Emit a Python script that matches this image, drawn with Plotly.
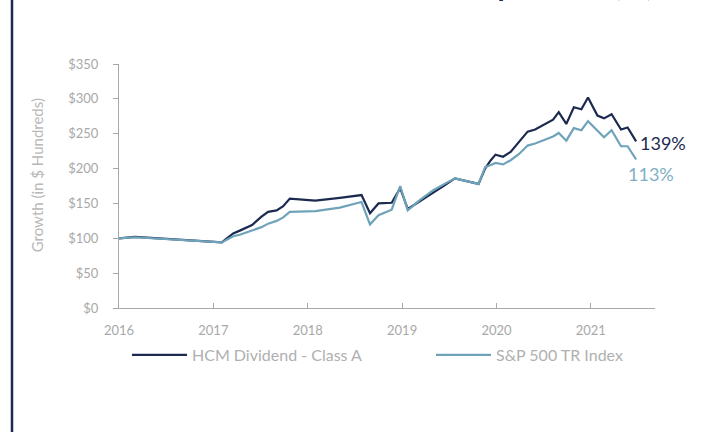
import plotly.graph_objects as go

# Decimal-year positions of the data points
years = [2016.00, 2016.17, 2017.09, 2017.21, 2017.28, 2017.41, 2017.51, 2017.58, 2017.67, 2017.74,
         2017.81, 2018.08, 2018.34, 2018.57, 2018.66, 2018.75, 2018.89, 2018.98, 2019.06, 2019.19,
         2019.33, 2019.45, 2019.56, 2019.81, 2019.88, 2019.94, 2019.99, 2020.07, 2020.15, 2020.24,
         2020.33, 2020.41, 2020.51, 2020.60, 2020.66, 2020.74, 2020.82, 2020.90, 2020.97, 2021.07,
         2021.14, 2021.22, 2021.32, 2021.39, 2021.48]

hcm = [100, 102, 94, 107, 111, 119, 131, 138, 140, 146,
       157, 154, 158, 162, 136, 150, 151, 172, 142, 153,
       166, 176, 186, 178, 200, 212, 220, 217, 224, 238,
       253, 256, 264, 270, 281, 264, 288, 285, 302, 276,
       272, 278, 256, 259, 239]

sp500 = [100, 101.5, 94, 103, 105, 111, 116, 121, 125, 130,
         138, 139, 144, 152, 120, 133, 141, 175, 140, 155,
         169, 178, 186, 178, 202, 205, 208, 206, 212, 221,
         233, 236, 241, 246, 251, 240, 258, 255, 268, 254,
         245, 255, 232, 232, 213]

series_names = ["HCM Dividend - Class A", "S&P 500 TR Index"]
end_labels = ["139%", "113%"]
tick_years = [2016, 2017, 2018, 2019, 2020, 2021]
tick_text = ["2016", "2017", "2018", "2019", "2020", "2021"]
y_ticks = [0, 50, 100, 150, 200, 250, 300, 350]
y_tick_text = ["$0", "$50", "$100", "$150", "$200", "$250", "$300", "$350"]

NAVY = "#1c2a4f"
BLUE = "#6fa3ba"
GRAY = "#a8a8a8"
FONT = "Lato"

# plot area in pixels
L, R, T, B = 119, 655, 63.5, 308
PW, PH = R - L, B - T


def px_x(x):
    return (x - L) / PW


def px_y(y):
    return (B - y) / PH


fig = go.Figure()
fig.add_trace(go.Scatter(x=years, y=hcm, mode="lines", name=series_names[0],
                         line=dict(color=NAVY, width=2.2), legend="legend"))
fig.add_trace(go.Scatter(x=years, y=sp500, mode="lines", name=series_names[1],
                         line=dict(color=BLUE, width=2.2), legend="legend2"))

fig.add_annotation(x=years[-1], y=hcm[-1], text=end_labels[0], showarrow=False,
                   xanchor="left", yanchor="middle", xshift=2, yshift=-2,
                   font=dict(family=FONT, size=18, color=NAVY))
fig.add_annotation(x=years[-1], y=sp500[-1], text=end_labels[1], showarrow=False,
                   xanchor="left", yanchor="middle", xshift=-10, yshift=-14,
                   font=dict(family=FONT, size=18, color="#7fb0c6"))

# partially visible heading at the very top (cut off by the page edge)
fig.add_annotation(xref="paper", yref="paper", x=px_x(655), y=px_y(3.5),
                   text="<b>Performance Comparison&nbsp;&nbsp; (%)</b>", showarrow=False,
                   xanchor="right", yanchor="bottom",
                   font=dict(family=FONT, size=29, color=NAVY))

# y-axis title
fig.add_annotation(xref="paper", yref="paper", x=px_x(37), y=px_y(175),
                   text="Growth (in $ Hundreds)", showarrow=False, textangle=-90,
                   xanchor="center", yanchor="middle",
                   font=dict(family=FONT, size=15, color="#b8b8b8"))

# left decorative rule
fig.add_shape(type="line", xref="paper", yref="paper",
              x0=px_x(12), x1=px_x(12), y0=px_y(440), y1=px_y(-10),
              line=dict(color=NAVY, width=2.5))

legend_common = dict(orientation="h", yanchor="middle", y=px_y(355), xanchor="left",
                     itemwidth=55, font=dict(family=FONT, size=16, color="#b0b0b0"),
                     bgcolor="rgba(0,0,0,0)", borderwidth=0)

fig.update_layout(
    width=721, height=432,
    margin=dict(l=L, r=721 - R, t=T, b=432 - B),
    paper_bgcolor="white", plot_bgcolor="white",
    font=dict(family=FONT, color=GRAY),
    showlegend=True,
    legend=dict(x=px_x(127), **legend_common),
    legend2=dict(x=px_x(431), **legend_common),
    xaxis=dict(range=[2016, 2021.68], tickvals=tick_years, ticktext=tick_text,
               showgrid=False, zeroline=False, showline=True, linecolor=GRAY, linewidth=1,
               ticks="inside", ticklen=5, tickcolor=GRAY, ticklabelstandoff=10,
               tickfont=dict(family=FONT, size=13, color=GRAY)),
    yaxis=dict(range=[0, 350], tickvals=y_ticks, ticktext=y_tick_text,
               showgrid=False, zeroline=False, showline=True, linecolor=GRAY, linewidth=1,
               ticks="outside", ticklen=5, tickcolor=GRAY, ticklabelstandoff=12,
               tickfont=dict(family=FONT, size=13, color=GRAY)),
)

fig.write_html("out.html", config={"displayModeBar": False},
               post_script="document.body.style.margin='0';document.body.style.overflow='hidden';")
